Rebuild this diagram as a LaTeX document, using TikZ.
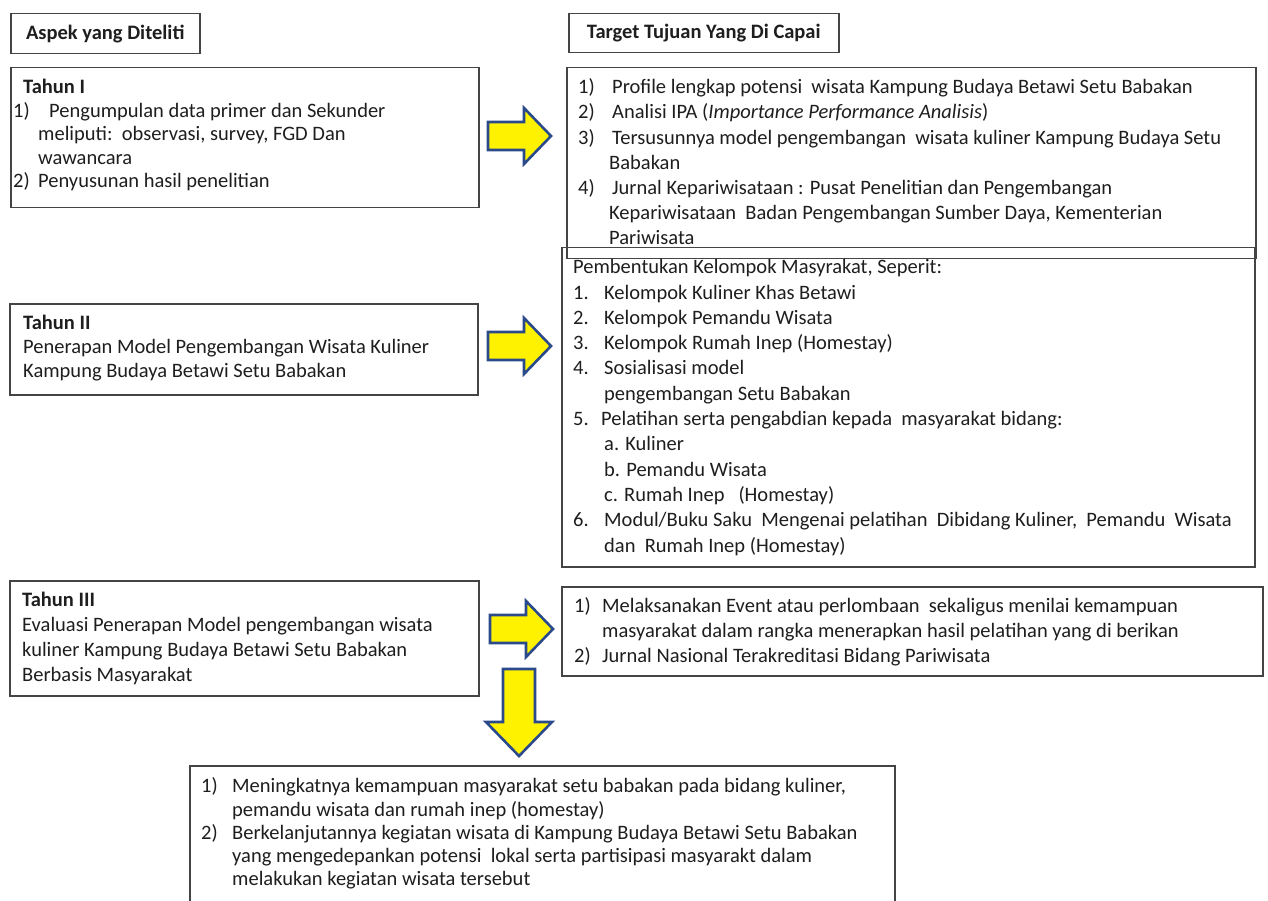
\documentclass[tikz,border=0pt]{standalone}
\usepackage{fontspec}
\setmainfont{Carlito}
\definecolor{arrowblue}{HTML}{2B4A8C}
\definecolor{boxline}{HTML}{444444}
\definecolor{txtcol}{HTML}{1E1E1E}
\newcommand{\itmlbl}[2]{\makebox[#1][l]{#2}}
\newcommand{\firststrut}{\rule{0pt}{18pt}}
\newcommand{\myrarrow}[3]{%
  \path[blockarrow] (#1,#3-14) -- ({#2-27},#3-14) -- ({#2-27},#3-28) -- (#2,#3)
    -- ({#2-27},#3+28) -- ({#2-27},#3+14) -- (#1,#3+14) -- cycle;}
\begin{document}
\begin{tikzpicture}[x=1pt,y=-1pt,
  box/.style={draw=boxline,line width=1.5pt,rectangle,inner sep=0pt,anchor=north west},
  hdr/.style={box,font=\fontsize{20.5}{25}\selectfont\bfseries,text=txtcol},
  txt/.style={anchor=north west,inner sep=0pt,align=left,text=txtcol},
  blockarrow/.style={fill=yellow,draw=arrowblue,line width=2.6pt,line join=miter}
]
\useasboundingbox[fill=white] (0,0) rectangle (1268,901);

% header boxes
\node[hdr,minimum width=189pt,minimum height=40pt] (hA) at (10,13) {Aspek yang Diteliti};
\node[hdr,minimum width=270pt,minimum height=39pt] (hT) at (568,13) {Target Tujuan Yang Di Capai};

% left boxes
\node[box,minimum width=468pt,minimum height=140pt] (t1) at (10,67) {};
\node[box,minimum width=468pt,minimum height=91pt] (t2) at (9,303) {};
\node[box,minimum width=469pt,minimum height=115pt] (t3) at (9,580) {};

% right boxes
\node[box,minimum width=689pt,minimum height=191pt] (r1) at (566,67) {};
\node[box,minimum width=693pt,minimum height=319pt] (r2) at (561,247) {};
\node[box,minimum width=701pt,minimum height=89pt] (r3) at (561,586) {};
\node[box,minimum width=705pt,minimum height=150pt] (rb) at (189,765) {};

% texts left
\node[txt,font=\fontsize{20.5}{23.5}\selectfont] (t1txt) at (13,{87-11.5}) {%
\firststrut\hspace*{10pt}\textbf{Tahun I}\\
\itmlbl{36pt}{1)}Pengumpulan data primer dan Sekunder\\
\hspace*{25pt}meliputi:\ \ observasi, survey, FGD Dan\\
\hspace*{25pt}wawancara\\
\itmlbl{25pt}{2)}Penyusunan hasil penelitian};

\node[txt,font=\fontsize{20.5}{24}\selectfont] (t2txt) at (23,{323-11.5}) {%
\firststrut\textbf{Tahun II}\\
Penerapan Model Pengembangan Wisata Kuliner\\
Kampung Budaya Betawi Setu Babakan};

\node[txt,font=\fontsize{20.5}{25}\selectfont] (t3txt) at (22,{600-11.5}) {%
\firststrut\textbf{Tahun III}\\
Evaluasi Penerapan Model pengembangan wisata\\
kuliner Kampung Budaya Betawi Setu Babakan\\
Berbasis Masyarakat};

% texts right
\node[txt,font=\fontsize{20.5}{25.17}\selectfont] (r1txt) at (578,{87-11.5}) {%
\firststrut\itmlbl{34pt}{1)}Profile lengkap potensi\ \ wisata Kampung Budaya Betawi Setu Babakan\\
\itmlbl{34pt}{2)}Analisi IPA (\textit{Importance Performance Analisis})\\
\itmlbl{34pt}{3)}Tersusunnya model pengembangan\ \ wisata kuliner Kampung Budaya Setu\\
\hspace*{31pt}Babakan\\
\itmlbl{34pt}{4)}Jurnal Kepariwisataan : Pusat Penelitian dan Pengembangan\\
\hspace*{31pt}Kepariwisataan\ \ Badan Pengembangan Sumber Daya, Kementerian\\
\hspace*{31pt}Pariwisata};

\node[txt,font=\fontsize{20.5}{25.3}\selectfont] (r2txt) at (573,{267-11.5}) {%
\firststrut Pembentukan Kelompok Masyrakat, Seperit:\\
\itmlbl{31pt}{1.}Kelompok Kuliner Khas Betawi\\
\itmlbl{31pt}{2.}Kelompok Pemandu Wisata\\
\itmlbl{31pt}{3.}Kelompok Rumah Inep (Homestay)\\
\itmlbl{31pt}{4.}Sosialisasi model\\
\hspace*{31pt}pengembangan Setu Babakan\\
\itmlbl{28pt}{5.}Pelatihan serta pengabdian kepada\ \ masyarakat bidang:\\
\hspace*{31pt}a. Kuliner\\
\hspace*{31pt}b. Pemandu Wisata\\
\hspace*{31pt}c. Rumah Inep\ \ \ (Homestay)\\
\itmlbl{31pt}{6.}Modul/Buku Saku\ \ Mengenai pelatihan\ \ Dibidang Kuliner,\ \ Pemandu\ \ Wisata\\
\hspace*{31pt}dan\ \ Rumah Inep (Homestay)};

\node[txt,font=\fontsize{20.5}{25}\selectfont] (r3txt) at (574,{606-11.5}) {%
\firststrut\itmlbl{28pt}{1)}Melaksanakan Event atau perlombaan\ \ sekaligus menilai kemampuan\\
\hspace*{28pt}masyarakat dalam rangka menerapkan hasil pelatihan yang di berikan\\
\itmlbl{28pt}{2)}Jurnal Nasional Terakreditasi Bidang Pariwisata};

\node[txt,font=\fontsize{20.5}{23.3}\selectfont] (rbtxt) at (201,{786-11.5}) {%
\firststrut\itmlbl{31pt}{1)}Meningkatnya kemampuan masyarakat setu babakan pada bidang kuliner,\\
\hspace*{31pt}pemandu wisata dan rumah inep (homestay)\\
\itmlbl{31pt}{2)}Berkelanjutannya kegiatan wisata di Kampung Budaya Betawi Setu Babakan\\
\hspace*{31pt}yang mengedepankan potensi\ \ lokal serta partisipasi masyarakt dalam\\
\hspace*{31pt}melakukan kegiatan wisata tersebut};

% block arrows
\myrarrow{488}{551}{136}
\myrarrow{488}{551}{346}
\myrarrow{490}{553}{629}
\path[blockarrow] (503,669) -- (535,669) -- (535,722) -- (552,722) -- (519,756)
  -- (486,722) -- (503,722) -- cycle;
\end{tikzpicture}
\end{document}
